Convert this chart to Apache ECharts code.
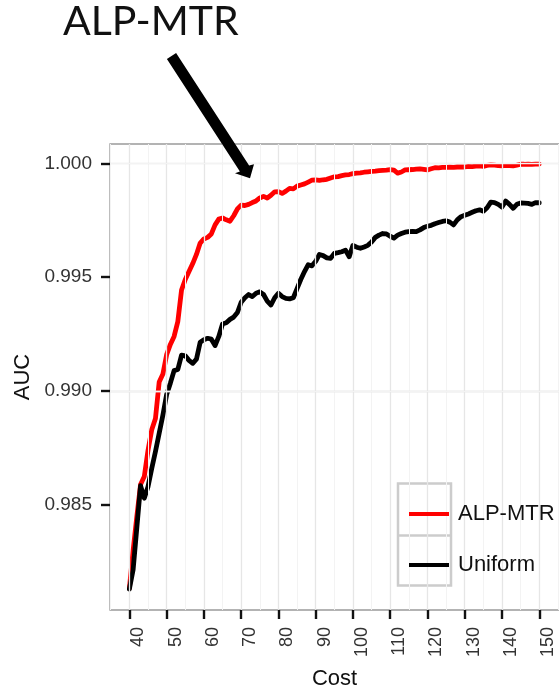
<!DOCTYPE html>
<html>
<head>
<meta charset="utf-8">
<script src="https://cdn.jsdelivr.net/npm/echarts@6/dist/echarts.min.js"></script>
<style>
  html, body { margin: 0; padding: 0; background: #ffffff; }
  #chart { width: 559px; height: 698px; }
</style>
</head>
<body>
<div id="chart"></div>
<script>
// Cost values (x)
const cost = [
  40, 41, 42, 43, 44, 45, 46, 47, 48, 49,
  50, 51, 52, 53, 54, 55, 56, 57, 58, 59,
  60, 61, 62, 63, 64, 65, 66, 67, 68, 69,
  70, 71, 72, 73, 74, 75, 76, 77, 78, 79,
  80, 81, 82, 83, 84, 85, 86, 87, 88, 89,
  90, 91, 92, 93, 94, 95, 96, 97, 98, 99,
  100, 101, 102, 103, 104, 105, 106, 107, 108, 109,
  110, 111, 112, 113, 114, 115, 116, 117, 118, 119,
  120, 121, 122, 123, 124, 125, 126, 127, 128, 129,
  130, 131, 132, 133, 134, 135, 136, 137, 138, 139,
  140, 141, 142, 143, 144, 145, 146, 147, 148, 149,
  150
];

// AUC for the ALP-MTR strategy
const aucAlpMtr = [
  0.98134, 0.98300, 0.98450, 0.98590, 0.98625, 0.98740, 0.98830, 0.98880, 0.99040, 0.99075,
  0.99160, 0.99205, 0.99240, 0.99305, 0.99444, 0.99490, 0.99525, 0.99560, 0.99600, 0.99650,
  0.99668, 0.99675, 0.99690, 0.99730, 0.99755, 0.99760, 0.99752, 0.99746, 0.99770, 0.99800,
  0.99817, 0.99815, 0.99820, 0.99828, 0.99835, 0.99848, 0.99855, 0.99848, 0.99860, 0.99875,
  0.99876, 0.99868, 0.99878, 0.99890, 0.99888, 0.99900, 0.99905, 0.99910, 0.99918, 0.99926,
  0.99927, 0.99925, 0.99928, 0.99930, 0.99936, 0.99941, 0.99942, 0.99946, 0.99949, 0.99951,
  0.99955, 0.99957, 0.99958, 0.99961, 0.99963, 0.99965, 0.99966, 0.99968, 0.99969, 0.99970,
  0.99972, 0.99970, 0.99957, 0.99962, 0.99971, 0.99972, 0.99973, 0.99975, 0.99976, 0.99974,
  0.99971, 0.99976, 0.99981, 0.99980, 0.99982, 0.99982, 0.99983, 0.99982, 0.99984, 0.99985,
  0.99984, 0.99987, 0.99986, 0.99988, 0.99989, 0.99987, 0.99991, 0.99993, 0.99992, 0.99990,
  0.99989, 0.99991, 0.99990, 0.99989, 0.99992, 0.99996, 0.99996, 0.99997, 0.99996, 0.99997,
  0.99997
];

// AUC for uniform sampling
const aucUniform = [
  0.98131, 0.98215, 0.98400, 0.98585, 0.98530, 0.98580, 0.98660, 0.98735, 0.98815, 0.98895,
  0.98985, 0.99035, 0.99090, 0.99095, 0.99158, 0.99155, 0.99135, 0.99122, 0.99140, 0.99215,
  0.99226, 0.99232, 0.99228, 0.99200, 0.99240, 0.99295, 0.99300, 0.99315, 0.99325, 0.99345,
  0.99390, 0.99410, 0.99424, 0.99415, 0.99430, 0.99436, 0.99424, 0.99395, 0.99378, 0.99410,
  0.99430, 0.99415, 0.99407, 0.99405, 0.99410, 0.99450, 0.99490, 0.99525, 0.99555, 0.99550,
  0.99570, 0.99600, 0.99595, 0.99585, 0.99583, 0.99605, 0.99608, 0.99612, 0.99619, 0.99590,
  0.99640, 0.99632, 0.99627, 0.99633, 0.99640, 0.99655, 0.99675, 0.99685, 0.99692, 0.99690,
  0.99680, 0.99672, 0.99685, 0.99692, 0.99698, 0.99700, 0.99701, 0.99700, 0.99708, 0.99718,
  0.99724, 0.99728, 0.99735, 0.99740, 0.99745, 0.99748, 0.99742, 0.99730, 0.99752, 0.99766,
  0.99772, 0.99778, 0.99785, 0.99792, 0.99796, 0.99790, 0.99805, 0.99830, 0.99828, 0.99820,
  0.99808, 0.99835, 0.99820, 0.99803, 0.99820, 0.99826, 0.99825, 0.99824, 0.99820, 0.99828,
  0.99827
];

// Axis ticks and grid lines
const xTicks = [40, 50, 60, 70, 80, 90, 100, 110, 120, 130, 140, 150];
const xMinorGrid = [35, 45, 55, 65, 75, 85, 95, 105, 115, 125, 135, 145, 155];
const yTicks = [0.985, 0.990, 0.995, 1.000];
const yMinorGrid = [0.9825, 0.9875, 0.9925, 0.9975];

const seriesNames = ['ALP-MTR', 'Uniform'];
const seriesColors = ['#ff0000', '#000000'];

const pair = (ys) => cost.map((c, i) => [c, ys[i]]);

const MAJOR = { color: '#e6e6e6', width: 1.3, type: 'solid' };
const MINOR = { color: '#f3f3f3', width: 1, type: 'solid' };

const gridLines = []
  .concat(xTicks.map(v => ({ xAxis: v, lineStyle: MAJOR })))
  .concat(xMinorGrid.map(v => ({ xAxis: v, lineStyle: MINOR })))
  .concat(yTicks.map(v => ({ yAxis: v, lineStyle: MAJOR })))
  .concat(yMinorGrid.map(v => ({ yAxis: v, lineStyle: MINOR })));

const FONT = '"Liberation Sans", Arial, sans-serif';

const chart = echarts.init(document.getElementById('chart'), null, { renderer: 'canvas' });

chart.setOption({
  animation: false,
  backgroundColor: '#ffffff',
  grid: {
    left: 110, top: 144, right: -1, bottom: 88,
    show: true, borderColor: '#9a9a9a', borderWidth: 1.3, backgroundColor: '#ffffff'
  },
  xAxis: {
    type: 'value',
    min: 34.8, max: 155.3,
    name: 'Cost',
    nameLocation: 'middle',
    nameGap: 58,
    nameTextStyle: { fontFamily: FONT, fontSize: 22, color: '#111' },
    axisLine: { show: false },
    axisTick: { show: true, length: 9, customValues: xTicks, lineStyle: { color: '#111111', width: 2.4 } },
    axisLabel: {
      customValues: xTicks, rotate: 90, margin: 17, verticalAlign: 'top',
      fontFamily: FONT, fontSize: 18, color: '#333333'
    },
    splitLine: { show: false }
  },
  yAxis: {
    type: 'value',
    min: 0.98039, max: 1.00085,
    name: 'AUC',
    nameLocation: 'middle',
    nameGap: 72,
    nameTextStyle: { fontFamily: FONT, fontSize: 22, color: '#111' },
    axisLine: { show: false },
    axisTick: { show: true, length: 9, customValues: yTicks, lineStyle: { color: '#111111', width: 2.4 } },
    axisLabel: {
      customValues: yTicks, margin: 18,
      fontFamily: FONT, fontSize: 19, color: '#333333',
      formatter: v => v.toFixed(3)
    },
    splitLine: { show: false }
  },
  legend: {
    data: seriesNames,
    orient: 'vertical',
    left: 404, top: 496,
    itemWidth: 40, itemHeight: 4,
    itemGap: 25,
    icon: 'rect',
    z: 6,
    selectedMode: false,
    textStyle: { fontFamily: FONT, fontSize: 22, color: '#111', lineHeight: 26, padding: [0, 0, 0, 4] }
  },
  graphic: [
    // legend background and key boxes
    { type: 'rect', z: 4, shape: { x: 397, y: 482, width: 165, height: 106 }, style: { fill: '#ffffff' } },
    { type: 'rect', z: 4, shape: { x: 398, y: 483.5, width: 53, height: 102 }, style: { fill: '#ffffff', stroke: '#cccccc', lineWidth: 2.5 } },
    { type: 'line', z: 4, shape: { x1: 398, y1: 535.5, x2: 451, y2: 535.5 }, style: { stroke: '#cccccc', lineWidth: 2.5 } },
    // annotation
    { type: 'text', z: 10, left: 63, top: 1, style: { text: 'ALP-MTR', fontFamily: 'Lato, "Open Sans", sans-serif', fontSize: 41, fill: '#111111' } },
    { type: 'polygon', z: 10, shape: { points: [[166.9, 59], [176.1, 53], [249.1, 165.5], [254, 164.3], [250, 178.3], [235, 173.3], [239.9, 171.5]] }, style: { fill: '#000000' } }
  ],
  series: [
    {
      name: 'gridlines', type: 'line', data: [], z: 1, silent: true,
      markLine: { silent: true, symbol: ['none', 'none'], label: { show: false }, animation: false, data: gridLines }
    },
    {
      name: seriesNames[0], type: 'line', data: pair(aucAlpMtr), z: 3,
      showSymbol: false, symbol: 'none', color: seriesColors[0],
      lineStyle: { color: seriesColors[0], width: 4.8, join: 'round', cap: 'round' }
    },
    {
      name: seriesNames[1], type: 'line', data: pair(aucUniform), z: 3,
      showSymbol: false, symbol: 'none', color: seriesColors[1],
      lineStyle: { color: seriesColors[1], width: 4.8, join: 'round', cap: 'round' }
    }
  ]
});
</script>
</body>
</html>
